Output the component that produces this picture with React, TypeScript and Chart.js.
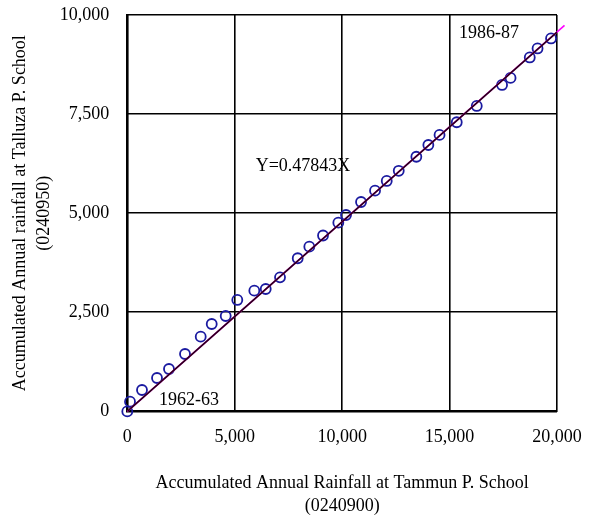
import React, { useEffect, useRef } from "react";
import { Chart, registerables } from "chart.js";

Chart.register(...registerables);

// Accumulated annual rainfall (mm): Tammun P. School (x) vs Talluza P. School (y)
const tammunAcc = [
  0, 126, 684, 1383, 1940, 2686, 3417, 3929, 4580, 5120, 5912, 6443, 7108, 7932,
  8472, 9110, 9822, 10180, 10879, 11531, 12075, 12634, 13453, 14012, 14533, 15334,
  16265, 17443, 17838, 18732, 19095, 19723,
];
const tallozaAcc = [
  0, 245, 540, 843, 1070, 1448, 1885, 2205, 2407, 2811, 3045, 3088, 3383, 3863,
  4155, 4438, 4761, 4955, 5283, 5568, 5813, 6070, 6424, 6721, 6974, 7294,
  7705, 8235, 8412, 8929, 9156, 9408,
];

// Fitted line Y = 0.47843X (end points)
const fitLineX = [0, 20000];
const fitLineY = [0, 9569];
const fitExtX = [0, 20350];
const fitExtY = [0, 9736];

const xTicks = [0, 5000, 10000, 15000, 20000];
const yTicks = [0, 2500, 5000, 7500, 10000];

const annotationTexts = ["Y=0.47843X", "1962-63", "1986-87"];
const annotationX = [8179, 2872, 16835];
const annotationY = [6174, 288, 9540];

const FONT = "'Times New Roman', 'Liberation Serif', serif";

const textPlugin = {
  id: "textAnnotations",
  afterDatasetsDraw(chart: any) {
    const { ctx, scales } = chart;
    ctx.save();
    ctx.font = `18px ${FONT}`;
    ctx.fillStyle = "#000";
    ctx.textAlign = "center";
    ctx.textBaseline = "middle";
    annotationTexts.forEach((t, i) => {
      ctx.fillText(t, scales.x.getPixelForValue(annotationX[i]), scales.y.getPixelForValue(annotationY[i]));
    });
    ctx.restore();
  },
};

export default function App() {
  const ref = useRef<HTMLCanvasElement | null>(null);
  useEffect(() => {
    if (!ref.current) return;
    const fmt = (v: any) => Number(v).toLocaleString("en-US");
    const chart = new Chart(ref.current, {
      type: "scatter",
      data: {
        datasets: [
          {
            type: "line",
            data: fitLineX.map((x, i) => ({ x, y: fitLineY[i] })),
            borderColor: "#2a0018",
            borderWidth: 1.6,
            pointRadius: 0,
            fill: false,
          } as any,
          {
            type: "line",
            data: fitExtX.map((x, i) => ({ x, y: fitExtY[i] })),
            borderColor: "#ff00ff",
            borderWidth: 1.6,
            pointRadius: 0,
            fill: false,
            clip: false,
          } as any,
          {
            data: tammunAcc.map((x, i) => ({ x, y: tallozaAcc[i] })),
            pointStyle: "circle",
            pointRadius: 5,
            pointBorderWidth: 1.8,
            borderColor: "#1a1aa0",
            backgroundColor: "rgba(0,0,0,0)",
            pointBackgroundColor: "rgba(0,0,0,0)",
            clip: false,
          } as any,
        ],
      },
      options: {
        animation: false,
        responsive: true,
        maintainAspectRatio: false,
        layout: { padding: { top: 15, right: 32, left: 0, bottom: 0 } },
        plugins: { legend: { display: false }, tooltip: { enabled: false } },
        scales: {
          x: {
            type: "linear",
            min: 0,
            max: 20000,
            afterBuildTicks: (s: any) => {
              s.ticks = xTicks.map((v) => ({ value: v }));
            },
            afterFit: (s: any) => {
              s.height = 108.6;
              s.paddingLeft = 0;
              s.paddingRight = 0;
            },
            grid: { color: "#000", lineWidth: 1.6, drawTicks: false },
            border: { display: true, color: "#000", width: 2 },
            ticks: {
              color: "#000",
              font: { family: FONT, size: 18 },
              padding: 15,
              maxRotation: 0,
              callback: fmt,
            },
            title: {
              display: true,
              text: ["Accumulated Annual Rainfall at Tammun P. School", "(0240900)"],
              color: "#000",
              font: { family: FONT, size: 18, lineHeight: 1.3 },
              padding: { top: 0, bottom: 2 },
            },
          },
          y: {
            type: "linear",
            min: 0,
            max: 10000,
            afterBuildTicks: (s: any) => {
              s.ticks = yTicks.map((v) => ({ value: v }));
            },
            afterFit: (s: any) => {
              s.width = 127.3;
              s.paddingTop = 0;
              s.paddingBottom = 0;
            },
            grid: { color: "#000", lineWidth: 1.6, drawTicks: false },
            border: { display: true, color: "#000", width: 2 },
            ticks: {
              color: "#000",
              font: { family: FONT, size: 18 },
              padding: 18,
              callback: fmt,
            },
            title: {
              display: true,
              text: ["Accumulated Annual rainfall at Talluza P. School", "(0240950)"],
              color: "#000",
              font: { family: FONT, size: 18, lineHeight: 1.3 },
              padding: { top: 9, bottom: 0 },
            },
          },
        },
      },
      plugins: [textPlugin],
    });
    return () => chart.destroy();
  }, []);
  return (
    <div style={{ position: "fixed", left: 0, top: 0, width: 589, height: 520, background: "#fff" }}>
      <canvas ref={ref} />
    </div>
  );
}
